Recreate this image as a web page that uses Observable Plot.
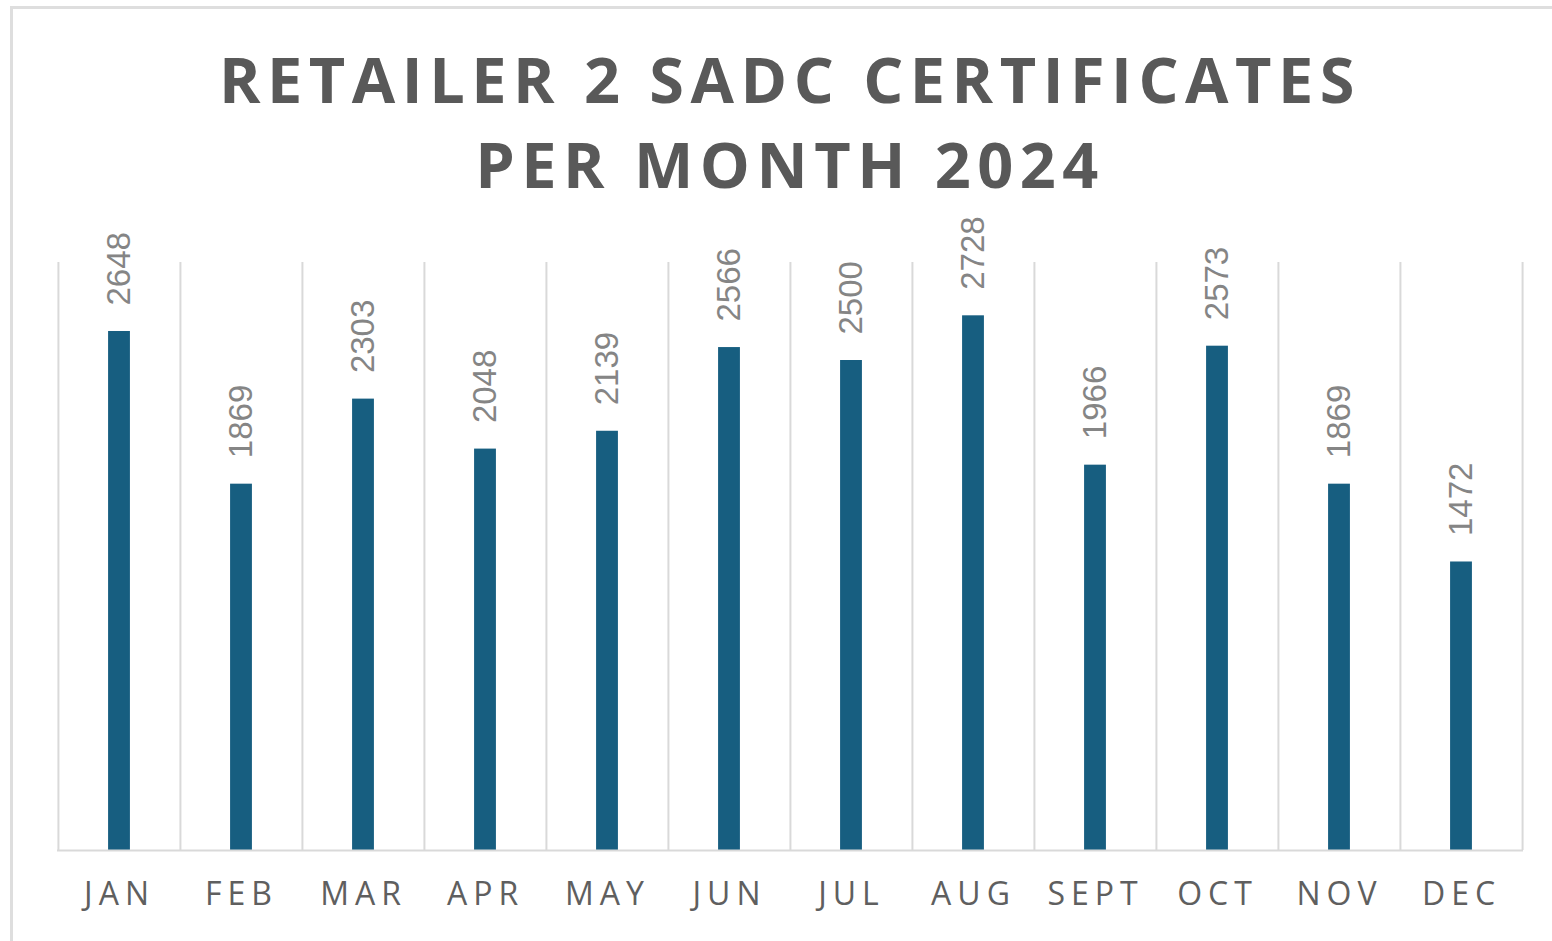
<!DOCTYPE html>
<html>
<head>
<meta charset="utf-8">
<script src="https://cdn.jsdelivr.net/npm/d3@7"></script>
<script src="https://cdn.jsdelivr.net/npm/@observablehq/plot@0.6"></script>
<style>
  html, body { margin: 0; padding: 0; background: #fff; overflow: hidden; width: 1552px; height: 941px; }
  #frame { position: absolute; left: 10px; top: 6px; width: 1600px; height: 1000px; border: 3px solid #dedede; box-sizing: border-box; }
  #title { position: absolute; left: 28px; width: 1524px; top: 36px; text-align: center;
    font-family: "Open Sans", sans-serif; font-weight: 700; font-size: 63px; line-height: 85px;
    letter-spacing: 6.5px; color: #595959; }
  #chart { position: absolute; left: 0; top: 200px; }
  #chart g[aria-label="x-axis tick label"] text { letter-spacing: 6px; }
</style>
</head>
<body>
<div id="frame"></div>
<div id="title">RETAILER 2 SADC CERTIFICATES<br>PER MONTH 2024</div>
<div id="chart"></div>
<script>
const months = ["JAN","FEB","MAR","APR","MAY","JUN","JUL","AUG","SEPT","OCT","NOV","DEC"];
const certificates = [2648, 1869, 2303, 2048, 2139, 2566, 2500, 2728, 1966, 2573, 1869, 1472];
const yDomain = [0, 3000];

const data = months.map((m, i) => ({month: m, value: certificates[i]}));

const W = 1552, H = 730, mL = 57, mR = 29, mT = 62, mB = 80;
const step = (W - mL - mR) / months.length;
const barW = 22;
const grid = "#d9d9d9";

const plot = Plot.plot({
  width: W, height: H,
  marginLeft: mL, marginRight: mR, marginTop: mT, marginBottom: mB,
  style: {background: "transparent", overflow: "visible"},
  x: {type: "band", domain: months, padding: 0, label: null},
  y: {domain: yDomain, axis: null},
  marks: [
    Plot.ruleX(months, {x: d => d, y1: yDomain[0], y2: yDomain[1], dx: -step / 2, stroke: grid, strokeWidth: 2}),
    Plot.ruleX(months.slice(-1), {x: d => d, y1: yDomain[0], y2: yDomain[1], dx: step / 2, stroke: grid, strokeWidth: 2}),
    Plot.barY(data, {x: "month", y: "value", fill: "#175e80", insetLeft: (step - barW) / 2, insetRight: (step - barW) / 2}),
    Plot.ruleY([0], {stroke: grid, strokeWidth: 2}),
    Plot.text(data, {x: "month", y: "value", text: d => String(d.value), rotate: -90, textAnchor: "start",
      lineAnchor: "middle", dy: -26, fill: "#858585", fontSize: 33, fontFamily: "Liberation Sans, Arial, sans-serif"}),
    Plot.axisX({tickSize: 0, tickPadding: 32, fontSize: 32, fill: "#5f5f5f", fontWeight: 500, fontFamily: "Open Sans, sans-serif", label: null})
  ]
});
document.getElementById("chart").appendChild(plot);
</script>
</body>
</html>
